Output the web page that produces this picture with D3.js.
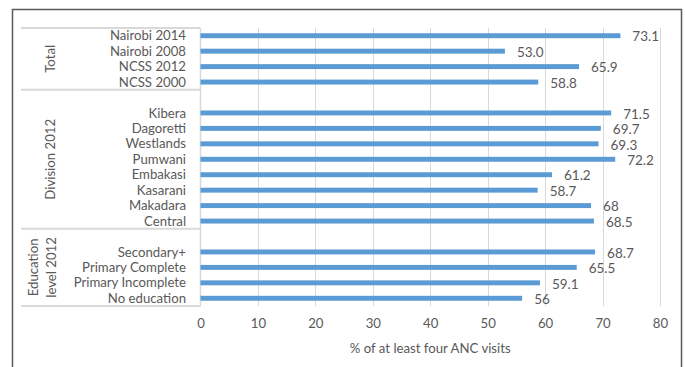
<!DOCTYPE html>
<html>
<head>
<meta charset="utf-8">
<script src="https://cdn.jsdelivr.net/npm/d3@7"></script>
<style>
  html, body { margin: 0; padding: 0; background: #fff; }
  svg { display: block; }
  text { font-family: Lato, "Open Sans", sans-serif; fill: #595959; }
</style>
</head>
<body>
<svg id="chart" width="685" height="367"></svg>
<script>
// Share of women with at least four ANC visits, by grouping
const groupNames = ["Total", "Division 2012", "Education level 2012"];

const totalCategories = ["Nairobi 2014", "Nairobi 2008", "NCSS 2012", "NCSS 2000"];
const totalValues = [73.1, 53.0, 65.9, 58.8];
const totalLabels = ["73.1", "53.0", "65.9", "58.8"];

const divisionCategories = ["Kibera", "Dagoretti", "Westlands", "Pumwani", "Embakasi", "Kasarani", "Makadara", "Central"];
const divisionValues = [71.5, 69.7, 69.3, 72.2, 61.2, 58.7, 68, 68.5];
const divisionLabels = ["71.5", "69.7", "69.3", "72.2", "61.2", "58.7", "68", "68.5"];

const educationCategories = ["Secondary+", "Primary Complete", "Primary Incomplete", "No education"];
const educationValues = [68.7, 65.5, 59.1, 56];
const educationLabels = ["68.7", "65.5", "59.1", "56"];

const xTicks = [0, 10, 20, 30, 40, 50, 60, 70, 80];
const xTitle = "% of at least four ANC visits";

// Build rows; groups after the first start with an empty slot
const groups = [
  { name: groupNames[0], cats: totalCategories, vals: totalValues, labs: totalLabels, lead: 0 },
  { name: groupNames[1], cats: divisionCategories, vals: divisionValues, labs: divisionLabels, lead: 1 },
  { name: groupNames[2], cats: educationCategories, vals: educationValues, labs: educationLabels, lead: 1 }
];
const rows = [];
groups.forEach((g, gi) => {
  g.start = rows.length;
  for (let i = 0; i < g.lead; i++) rows.push({ key: "blank" + gi, blank: true });
  g.cats.forEach((c, i) => rows.push({ key: g.name + "|" + c, cat: c, value: g.vals[i], label: g.labs[i], blank: false }));
  g.end = rows.length;
});

const svg = d3.select("#chart");

const plotLeft = 200.5, plotRight = 660, plotTop = 28, plotBottom = 306;
const labelSize = 13.2;

const x = d3.scaleLinear().domain([0, 80]).range([plotLeft, plotRight]);
const y = d3.scaleBand()
  .domain(rows.map(r => r.key))
  .range([plotTop, plotBottom])
  .paddingInner(0.68)
  .paddingOuter(0.34);
const step = y.step();
const slotTop = i => plotTop + i * step;

// Outer frame
svg.append("path")
  .attr("d", `M12.5,367 V9.5 H681.5 V367`)
  .attr("fill", "none")
  .attr("stroke", "#595959")
  .attr("stroke-width", 1.5);

// Vertical gridlines
svg.append("g")
  .selectAll("line")
  .data(xTicks.slice(1))
  .join("line")
  .attr("x1", d => Math.round(x(d)) + 0.5)
  .attr("x2", d => Math.round(x(d)) + 0.5)
  .attr("y1", plotTop)
  .attr("y2", plotBottom)
  .attr("stroke", "#d9d9d9")
  .attr("stroke-width", 1);

// Category axis line and group separators
svg.append("line")
  .attr("x1", plotLeft).attr("x2", plotLeft)
  .attr("y1", plotTop).attr("y2", plotBottom)
  .attr("stroke", "#d9d9d9").attr("stroke-width", 1.5);

const sepYs = [plotTop].concat(groups.map(g => slotTop(g.end)));
svg.append("g")
  .selectAll("line")
  .data(sepYs)
  .join("line")
  .attr("x1", 21).attr("x2", plotLeft)
  .attr("y1", d => d).attr("y2", d => d)
  .attr("stroke", "#d9d9d9").attr("stroke-width", 2);

// Bars
const dataRows = rows.filter(r => !r.blank);
svg.append("g")
  .selectAll("rect")
  .data(dataRows)
  .join("rect")
  .attr("x", x(0))
  .attr("y", d => y(d.key))
  .attr("width", d => x(d.value) - x(0))
  .attr("height", y.bandwidth())
  .attr("fill", "#5b9bd5");

// Value labels
svg.append("g")
  .selectAll("text")
  .data(dataRows)
  .join("text")
  .attr("x", d => x(d.value) + 12)
  .attr("y", d => y(d.key) + y.bandwidth() / 2 + 1)
  .attr("dy", "0.35em")
  .attr("font-size", 13.5)
  .text(d => d.label);

// Category labels
svg.append("g")
  .selectAll("text")
  .data(dataRows)
  .join("text")
  .attr("x", 186)
  .attr("y", d => y(d.key) + y.bandwidth() / 2)
  .attr("dy", "0.35em")
  .attr("text-anchor", "end")
  .attr("font-size", labelSize)
  .text(d => d.cat);

// Group labels (rotated)
groups.forEach(g => {
  const cy = (slotTop(g.start) + slotTop(g.end)) / 2;
  const lines = g.name === "Education level 2012" ? ["Education", "level 2012"] : [g.name];
  const cx = lines.length === 1 ? 50 : 41;
  const t = svg.append("text")
    .attr("transform", `translate(${cx},${cy}) rotate(-90)`)
    .attr("text-anchor", "middle")
    .attr("font-size", labelSize);
  lines.forEach((ln, i) => {
    t.append("tspan")
      .attr("x", 0)
      .attr("dy", i === 0 ? (lines.length === 1 ? "0.35em" : "-0.25em") : "1.4em")
      .text(ln);
  });
});

// Value axis
const xAxis = d3.axisBottom(x).tickValues(xTicks).tickSize(0).tickPadding(0);
const gx = svg.append("g")
  .attr("transform", `translate(0,${plotBottom})`)
  .call(xAxis);
gx.select(".domain").remove();
gx.selectAll("text")
  .attr("y", 17)
  .attr("dy", "0.35em")
  .attr("font-size", labelSize)
  .attr("font-family", "Lato, 'Open Sans', sans-serif")
  .attr("fill", "#595959");

svg.append("text")
  .attr("x", (plotLeft + plotRight) / 2)
  .attr("y", 348)
  .attr("dy", "0.35em")
  .attr("text-anchor", "middle")
  .attr("font-size", labelSize)
  .text(xTitle);
</script>
</body>
</html>
